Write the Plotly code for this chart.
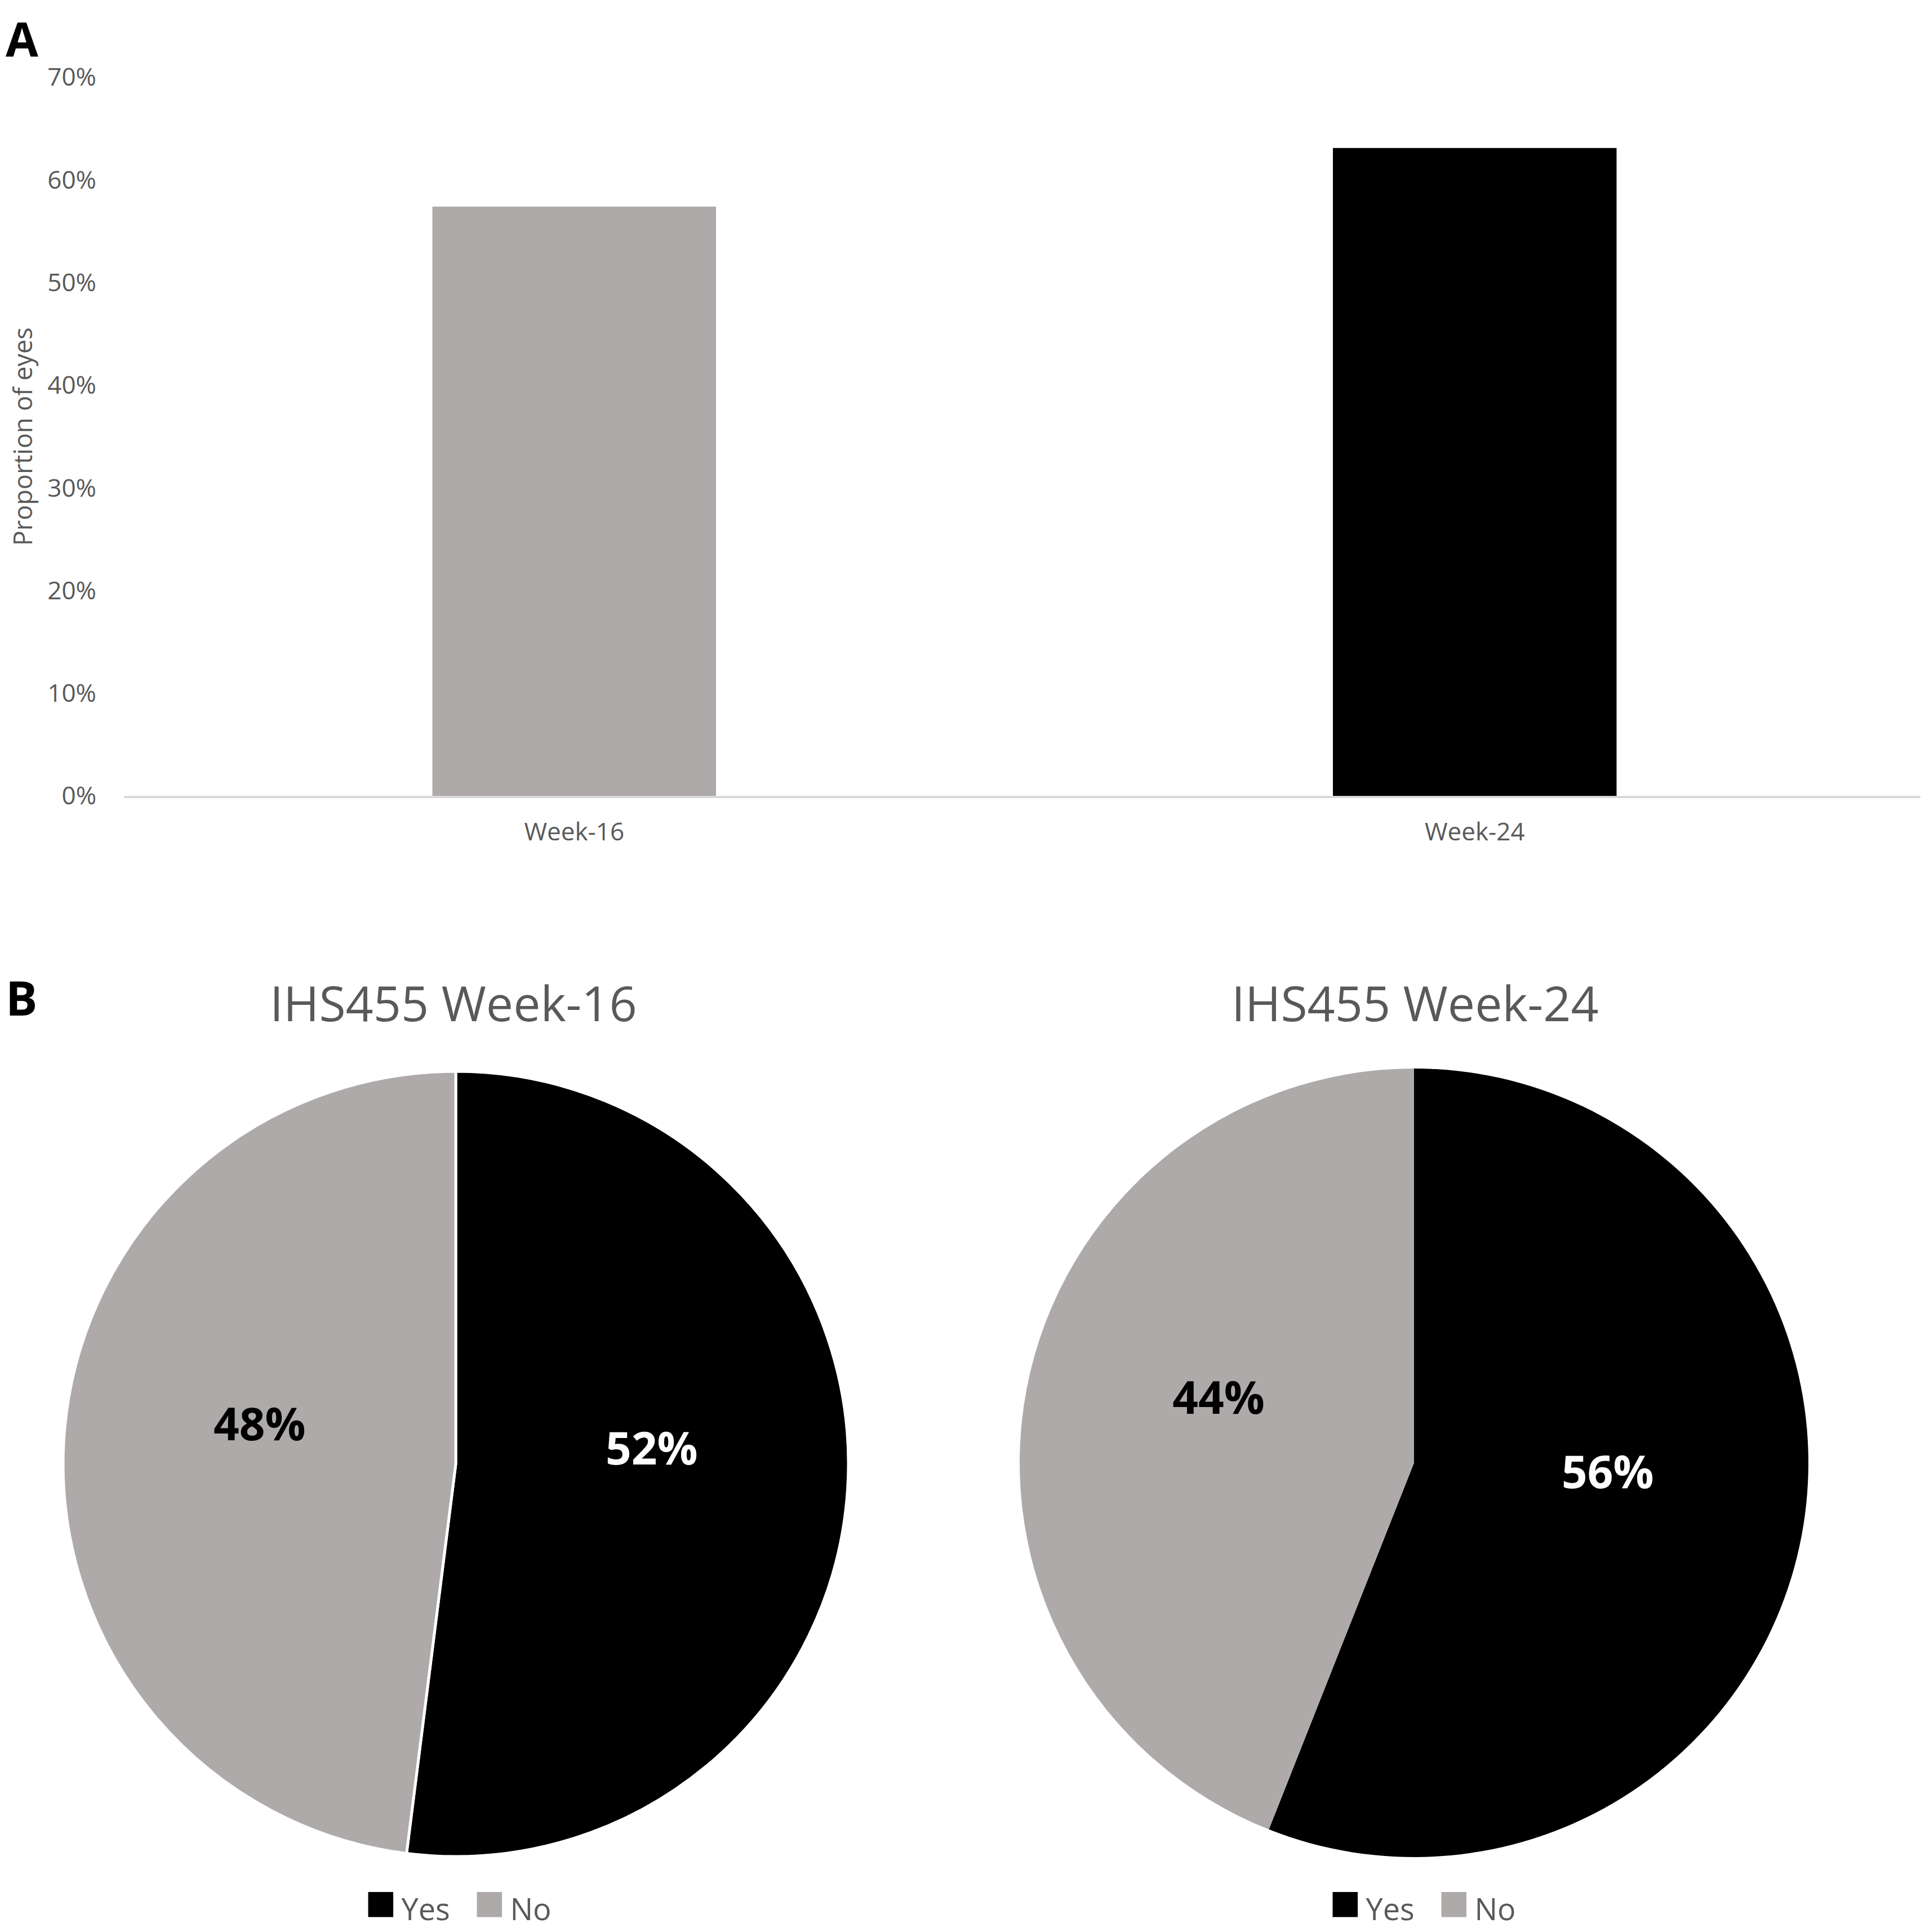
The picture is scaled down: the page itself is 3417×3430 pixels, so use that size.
import plotly.graph_objects as go

# ---------------- data ----------------
categories = ["Week-16", "Week-24"]
bar_values = [0.574, 0.631]
bar_colors = ["#AEAAAA", "#000000"]
y_tick_vals = [0, 0.1, 0.2, 0.3, 0.4, 0.5, 0.6, 0.7]
y_tick_text = ["0%", "10%", "20%", "30%", "40%", "50%", "60%", "70%"]
y_title = "Proportion of eyes"

pie_labels = ["Yes", "No"]
pie_colors = ["#000000", "#AEAAAA"]
pie_text_colors = ["#FFFFFF", "#000000"]
pie_week16 = [52, 48]
pie_week24 = [56, 44]
pie_titles = ["IHS455 Week-16", "IHS455 Week-24"]

W, H = 3417, 3430
FONT = "Open Sans"
GREY_TXT = "#595959"


def px_x(v):
    return v / W


def px_y(v):
    return 1 - v / H


fig = go.Figure()

# ---------------- panel A: bars ----------------
fig.add_trace(go.Bar(
    x=categories, y=bar_values,
    marker=dict(color=bar_colors, line=dict(width=0)),
    showlegend=False, hoverinfo="x+y",
))

fig.update_layout(
    xaxis=dict(
        domain=[px_x(212), px_x(3409)],
        anchor="y",
        type="category",
        showgrid=False, zeroline=False,
        showline=True, linecolor="#D9D9D9", linewidth=4,
        ticks="", ticklabelstandoff=22,
        tickfont=dict(family=FONT, size=44, color=GREY_TXT),
        automargin=False,
    ),
    yaxis=dict(
        domain=[px_y(1405), px_y(129)],
        anchor="x",
        range=[0, 0.7],
        tickvals=y_tick_vals, ticktext=y_tick_text,
        showgrid=False, zeroline=False, showline=False,
        ticks="", ticklabelstandoff=48,
        tickfont=dict(family=FONT, size=44, color=GREY_TXT),
        automargin=False,
    ),
    bargap=0.685,
    showlegend=False,
)

# ---------------- panel B: pies ----------------
pie_common = dict(
    labels=pie_labels, sort=False, direction="clockwise", rotation=0,
    textinfo="percent", texttemplate="%{percent:.0%}<br>\u00a0",
    textposition="inside", insidetextorientation="horizontal",
    textfont=dict(family=FONT, size=80, color=pie_text_colors, weight="bold"),
    showlegend=False, automargin=False,
)

fig.add_trace(go.Pie(
    values=pie_week16,
    domain=dict(x=[px_x(104), px_x(1498)], y=[px_y(3288), px_y(1894)]),
    marker=dict(colors=pie_colors, line=dict(color="#FFFFFF", width=5)),
    **pie_common,
))

fig.add_trace(go.Pie(
    values=pie_week24,
    domain=dict(x=[px_x(1802), px_x(3202)], y=[px_y(3289), px_y(1889)]),
    marker=dict(colors=pie_colors, line=dict(color="#FFFFFF", width=0)),
    **pie_common,
))


# legend rows under each pie (symbol squares + label text)
def legend_text():
    parts = []
    for lab, col in zip(pie_labels, pie_colors):
        parts.append(
            f"<span style='font-size:92px;color:{col}'>\u25A0</span>\u2009{lab}"
        )
    return "\u00a0\u00a0\u00a0".join(parts)


# ---------------- annotations ----------------
annotations = [
    dict(text="A", x=0, y=1, xanchor="left", yanchor="top",
         font=dict(family=FONT, size=84, color="#000000", weight="bold")),
    dict(text="B", x=0, y=px_y(1762), xanchor="left", yanchor="middle",
         font=dict(family=FONT, size=84, color="#000000", weight="bold")),
    dict(text=y_title, x=px_x(32), y=px_y(767), xanchor="center", yanchor="middle",
         textangle=-90, font=dict(family=FONT, size=45, color=GREY_TXT)),
    dict(text=pie_titles[0], x=px_x(797), y=px_y(1772), xanchor="center", yanchor="middle",
         font=dict(family=FONT, size=86, color=GREY_TXT)),
    dict(text=pie_titles[1], x=px_x(2504), y=px_y(1772), xanchor="center", yanchor="middle",
         font=dict(family=FONT, size=86, color=GREY_TXT)),
    dict(text=legend_text(), x=px_x(805), y=0, xanchor="center", yanchor="bottom",
         font=dict(family=FONT, size=54, color=GREY_TXT)),
    dict(text=legend_text(), x=px_x(2517), y=0, xanchor="center", yanchor="bottom",
         font=dict(family=FONT, size=54, color=GREY_TXT)),
]
for a in annotations:
    a.update(xref="paper", yref="paper", showarrow=False)

fig.update_layout(
    width=W, height=H,
    margin=dict(l=0, r=0, t=0, b=0, pad=0, autoexpand=False),
    paper_bgcolor="#FFFFFF", plot_bgcolor="#FFFFFF",
    annotations=annotations,
    font=dict(family=FONT, color=GREY_TXT),
)

fig.write_html("out.html")
